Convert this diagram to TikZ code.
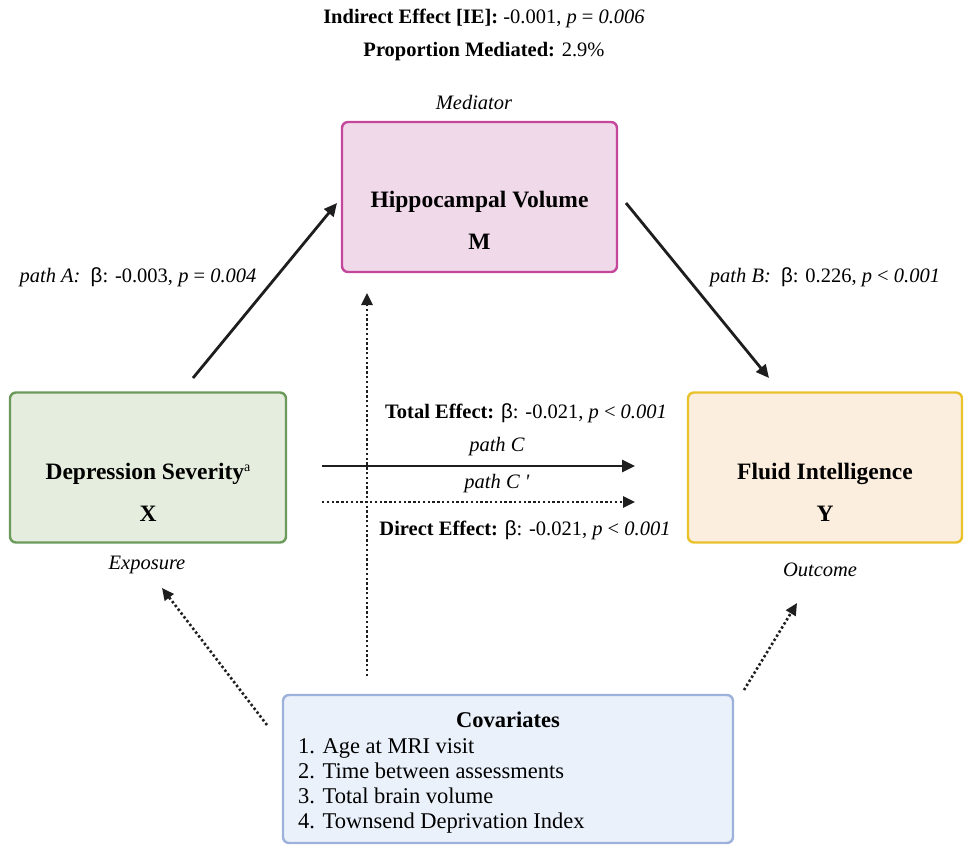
\documentclass[tikz,border=0pt]{standalone}
\usepackage{fontspec}
\setmainfont{Liberation Serif}
\newfontfamily\betafont{Liberation Sans}
\usetikzlibrary{arrows.meta}
\definecolor{mfill}{HTML}{F0D9E9}
\definecolor{mline}{HTML}{C4479C}
\definecolor{xfill}{HTML}{E5EDDF}
\definecolor{xline}{HTML}{6B9A5B}
\definecolor{yfill}{HTML}{FCEEDF}
\definecolor{yline}{HTML}{E9C12B}
\definecolor{cfill}{HTML}{EAF1FA}
\definecolor{cline}{HTML}{9DB2DA}
\definecolor{ink}{HTML}{1E1E1E}
\newcommand{\bet}{{\betafont β}}
\newcommand{\supa}{\raisebox{8pt}{\fontsize{14}{14}\selectfont\mdseries a}}
\tikzset{box/.style={draw,rounded corners=6pt,line width=2.4pt,inner sep=0pt,minimum width=#1,minimum height=150pt},
         lbl/.style={font=\fontsize{20.5}{24}\selectfont,inner sep=0pt},
         ttl/.style={font=\fontsize{23.5}{42}\selectfont\bfseries,align=center,inner sep=0pt}}

\begin{document}
\begin{tikzpicture}[x=1pt,y=-1pt,
        solid arrow/.style={ink,line width=2.8pt,-{Triangle[length=13pt,width=12pt]}},
        dot arrow/.style={ink,line width=2.6pt,dash pattern=on 2.4pt off 2.4pt,-{Triangle[length=12pt,width=11pt]}}]
        \useasboundingbox (0,0) rectangle (965,845);
        % boxes
        \node[box=275pt,fill=mfill,draw=mline] (M) at (479.5,197) {};
        \node[box=276pt,fill=xfill,draw=xline] (X) at (148,467.5) {};
        \node[box=274pt,fill=yfill,draw=yline] (Y) at (825,467.5) {};
        \node[box=450pt,minimum height=148pt,fill=cfill,draw=cline] (C) at (508,769) {};
        \node[ttl] (Mt) at (479.5,220) {Hippocampal Volume\\M};
        \node[ttl] (Xt) at (148,492) {Depression Severity\supa\\X};
        \node[ttl] (Yt) at (825,492) {Fluid Intelligence\\Y};
        \node[ttl,font=\fontsize{22.5}{25}\selectfont\bfseries] (Ct) at (508,720) {Covariates};
        \node[anchor=west,align=left,inner sep=0pt,font=\fontsize{22.5}{25}\selectfont] (Cl) at (298,786)
            {1. Age at MRI visit\\2. Time between assessments\\3. Total brain volume\\4. Townsend Deprivation Index};
        % labels
        \node[lbl] (ie) at (484,18) {\textbf{Indirect Effect [IE]:} -0.001, \textit{p} = \textit{0.006}};
        \node[lbl] (pm) at (484,52) {\textbf{Proportion Mediated:} 2.9\%};
        \node[lbl] (med) at (474,102) {\textit{Mediator}};
        \node[lbl] (exp) at (147,565) {\textit{Exposure}};
        \node[lbl] (out) at (820,570) {\textit{Outcome}};
        \node[lbl] (pa) at (138,277) {\textit{path A:}\ \ \bet: -0.003, \textit{p} = \textit{0.004}};
        \node[lbl] (pb) at (825,277) {\textit{path B:}\ \ \bet: 0.226, \textit{p} < \textit{0.001}};
        \node[lbl] (te) at (526,413) {\textbf{Total Effect:} \bet: -0.021, \textit{p} < \textit{0.001}};
        \node[lbl] (pc) at (497,447) {\textit{path C}};
        \node[lbl] (pcc) at (497,484) {\textit{path C \textquotesingle}};
        \node[lbl] (de) at (525,530) {\textbf{Direct Effect:} \bet: -0.021, \textit{p} < \textit{0.001}};
        % connector ends
        \coordinate (aS) at (193,378);   \coordinate (aE) at (337,203);
        \coordinate (bS) at (626,203);   \coordinate (bE) at (769,378);
        \coordinate (cS) at (322,466);   \coordinate (cE) at (635,466);
        \coordinate (dS) at (322,502);   \coordinate (dE) at (635,502);
        \coordinate (vS) at (367,676);   \coordinate (vE) at (367,293);
        \coordinate (xS) at (267,725);   \coordinate (xE) at (162,588);
        \coordinate (yS) at (744,690);   \coordinate (yE) at (797,603);
        % connectors
        \draw[solid arrow] (aS) -- (aE);
        \draw[solid arrow] (bS) -- (bE);
        \draw[solid arrow] (cS) -- (cE);
        \draw[dot arrow] (dS) -- (dE);
        \draw[dot arrow] (vS) -- (vE);
        \draw[dot arrow] (xS) -- (xE);
        \draw[dot arrow] (yS) -- (yE);
\end{tikzpicture}
\end{document}
